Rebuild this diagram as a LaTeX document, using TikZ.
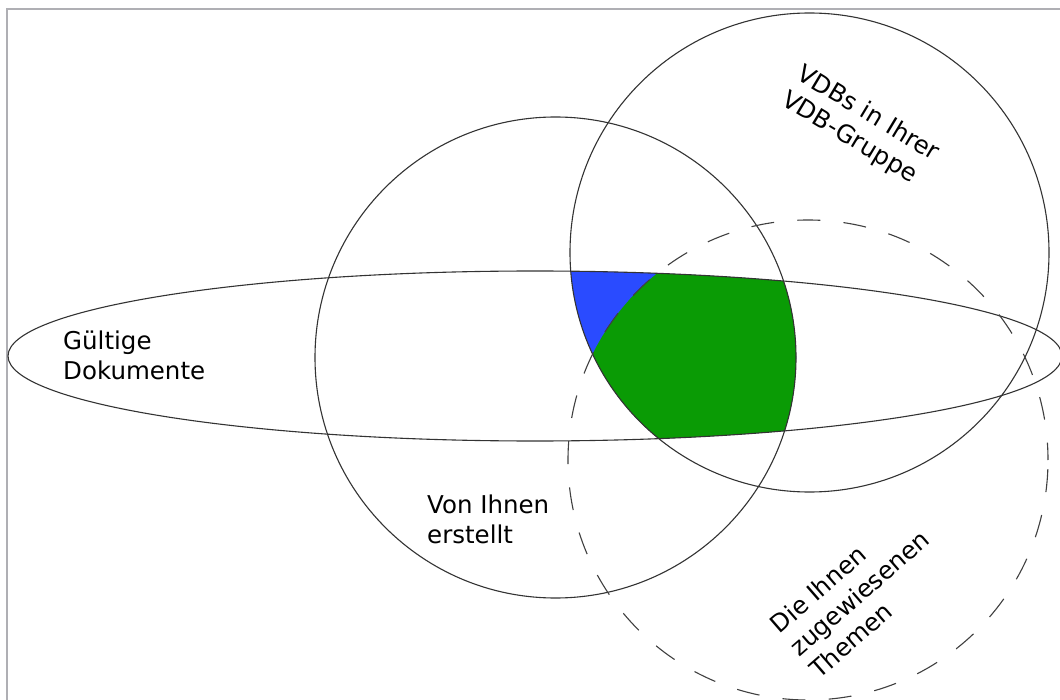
\documentclass[tikz,border=0pt]{standalone}
\usepackage{fontspec}
\setmainfont{DejaVu Sans}
\definecolor{setblue}{RGB}{42,75,255}
\definecolor{setgreen}{RGB}{10,155,5}
\definecolor{framegray}{RGB}{175,175,180}
\begin{document}
\begin{tikzpicture}[x=1pt,y=-1pt,
  outline/.style={draw=black!80, line width=1.1pt},
  dashedoutline/.style={draw=black!75, line width=1.1pt,
    dash pattern=on 23pt off 23.3pt, dash phase=37.1pt},
  lbl/.style={font=\fontsize{24.5}{30}\selectfont, align=left, inner sep=0pt, text=black},
  frameline/.style={draw=framegray, line width=2pt}]

% page and frame
\useasboundingbox (0,0) rectangle (1060,700);
\fill[white] (0,0) rectangle (1060,700);
\draw[frameline] (7,700) -- (7,9) -- (1060,9);

% set centres
\coordinate (cValid) at (535,356);
\coordinate (cOwn) at (555.5,357.5);
\coordinate (cGroup) at (809.5,252.5);
\coordinate (cTopics) at (808,460);

% shaded intersections
\begin{scope}
  \clip (cValid) ellipse [x radius=527, y radius=85];
  \clip (cOwn) circle [radius=240.5];
  \clip (cGroup) circle [radius=239.5];
  \fill[setblue] (300,0) rectangle (1060,700);
  \clip (cTopics) circle [radius=240];
  \fill[setgreen] (300,0) rectangle (1060,700);
\end{scope}

% set outlines
\draw[outline] (cValid) ellipse [x radius=527, y radius=85];
\draw[outline] (cOwn) circle [radius=240.5];
\draw[outline] (cGroup) circle [radius=239.5];
\draw[dashedoutline] (cTopics) circle [radius=240];

% labels (anchored at the baseline of their last line)
\node[lbl, anchor=base west] (valid) at (63,380) {Gültige\\Dokumente};
\node[lbl, anchor=base west] (own) at (427,543) {Von Ihnen\\erstellt};
\node[lbl, anchor=base west, rotate=-31] (group) at (780,104) {VDBs in Ihrer\\VDB-Gruppe};
\node[lbl, anchor=base west, rotate=41] (topics) at (819,680) {Die Ihnen\\zugewiesenen\\Themen};
\end{tikzpicture}
\end{document}
